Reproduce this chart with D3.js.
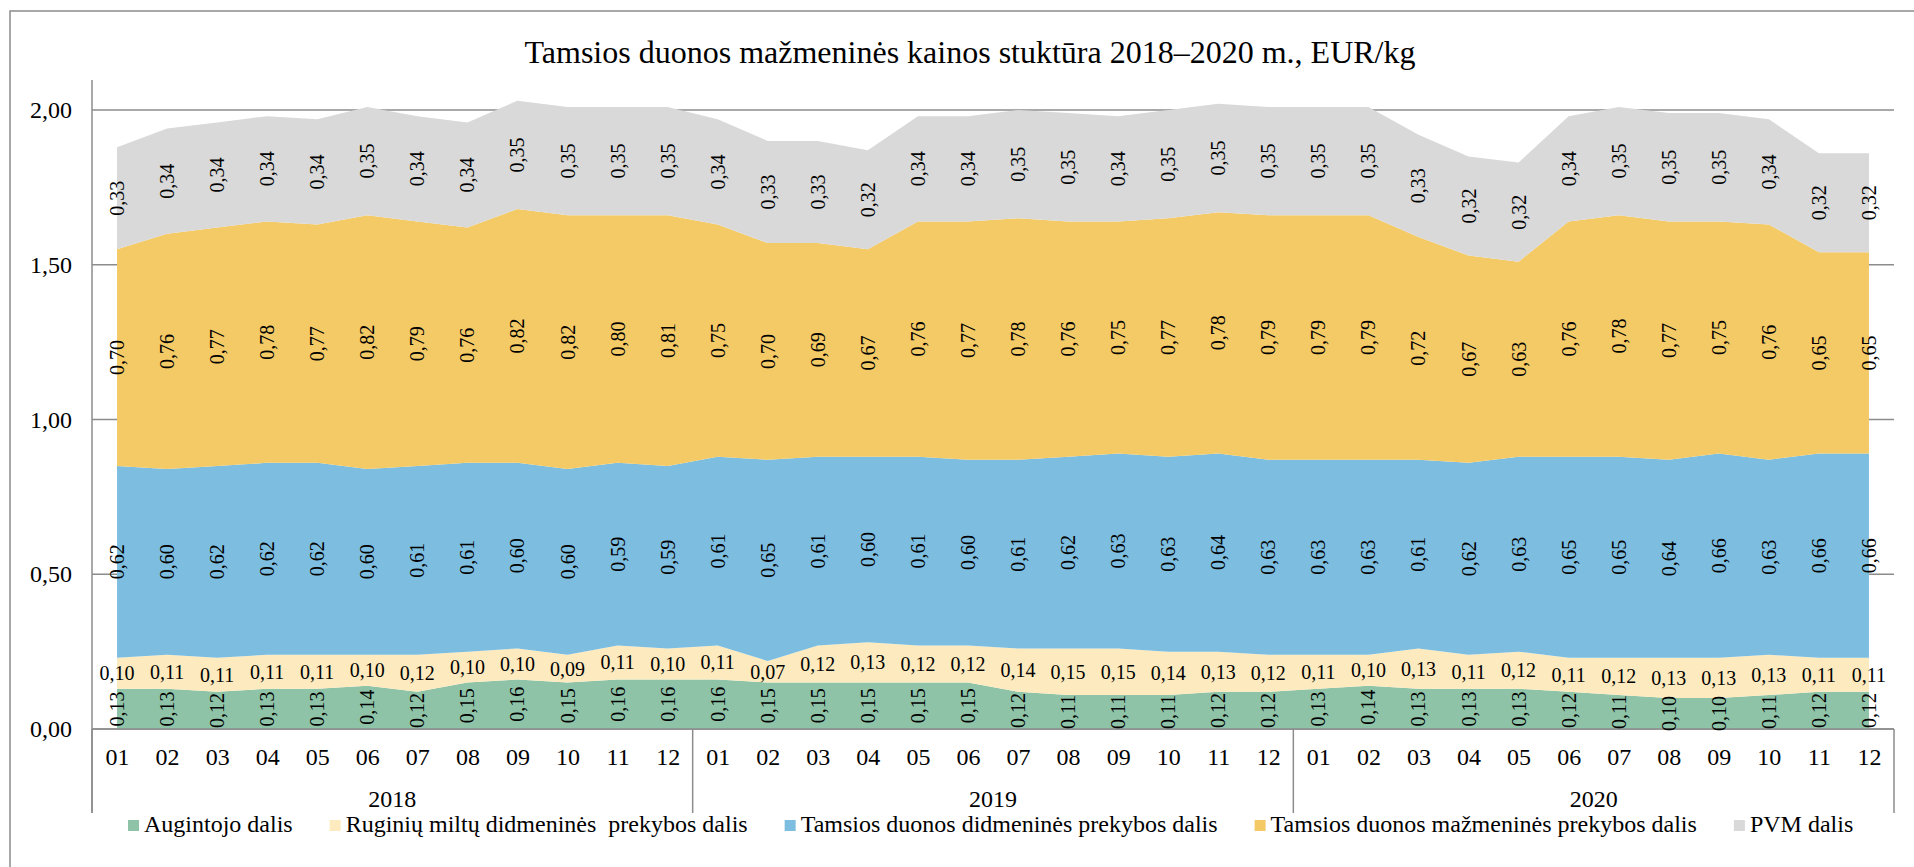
<!DOCTYPE html>
<html lang="lt">

<head>
    <meta charset="UTF-8">
    <title>Tamsios duonos kainos struktūra</title>
    <style>
        body { margin: 0; background: #fff; }
        svg { display: block; font-family: "Liberation Serif", "Times New Roman", serif; }
    </style>
</head>

<body>
    <script src="https://cdn.jsdelivr.net/npm/d3@7/dist/d3.min.js"></script>
    <script>
        // duomenys
        var years = ['2018', '2019', '2020'];
        var months = ['01', '02', '03', '04', '05', '06', '07', '08', '09', '10', '11', '12'];
        var yTicks = [0, 0.5, 1, 1.5, 2];

        var augintojo = [0.13, 0.13, 0.12, 0.13, 0.13, 0.14, 0.12, 0.15, 0.16, 0.15, 0.16, 0.16,
            0.16, 0.15, 0.15, 0.15, 0.15, 0.15, 0.12, 0.11, 0.11, 0.11, 0.12, 0.12,
            0.13, 0.14, 0.13, 0.13, 0.13, 0.12, 0.11, 0.10, 0.10, 0.11, 0.12, 0.12];
        var ruginiu = [0.10, 0.11, 0.11, 0.11, 0.11, 0.10, 0.12, 0.10, 0.10, 0.09, 0.11, 0.10,
            0.11, 0.07, 0.12, 0.13, 0.12, 0.12, 0.14, 0.15, 0.15, 0.14, 0.13, 0.12,
            0.11, 0.10, 0.13, 0.11, 0.12, 0.11, 0.12, 0.13, 0.13, 0.13, 0.11, 0.11];
        var didmenine = [0.62, 0.60, 0.62, 0.62, 0.62, 0.60, 0.61, 0.61, 0.60, 0.60, 0.59, 0.59,
            0.61, 0.65, 0.61, 0.60, 0.61, 0.60, 0.61, 0.62, 0.63, 0.63, 0.64, 0.63,
            0.63, 0.63, 0.61, 0.62, 0.63, 0.65, 0.65, 0.64, 0.66, 0.63, 0.66, 0.66];
        var mazmenine = [0.70, 0.76, 0.77, 0.78, 0.77, 0.82, 0.79, 0.76, 0.82, 0.82, 0.80, 0.81,
            0.75, 0.70, 0.69, 0.67, 0.76, 0.77, 0.78, 0.76, 0.75, 0.77, 0.78, 0.79,
            0.79, 0.79, 0.72, 0.67, 0.63, 0.76, 0.78, 0.77, 0.75, 0.76, 0.65, 0.65];
        var pvm = [0.33, 0.34, 0.34, 0.34, 0.34, 0.35, 0.34, 0.34, 0.35, 0.35, 0.35, 0.35,
            0.34, 0.33, 0.33, 0.32, 0.34, 0.34, 0.35, 0.35, 0.34, 0.35, 0.35, 0.35,
            0.35, 0.35, 0.33, 0.32, 0.32, 0.34, 0.35, 0.35, 0.35, 0.34, 0.32, 0.32];

        var seriesNames = ['Augintojo dalis', 'Ruginių miltų didmeninės  prekybos dalis',
            'Tamsios duonos didmeninės prekybos dalis', 'Tamsios duonos mažmeninės prekybos dalis', 'PVM dalis'];
        var seriesValues = [augintojo, ruginiu, didmenine, mazmenine, pvm];
        var colors = ['#8ec3a7', '#fdebbf', '#7dbee0', '#f4ca66', '#d9d9d9'];
        var rotated = [true, false, true, true, true];

        var W = 1914, H = 867;
        var plotL = 92, plotR = 1894, plotT = 110, plotB = 729;
        var gridColor = '#8c8c8c';

        // lentelė stack'ui
        var cats = [];
        years.forEach(function (y) { months.forEach(function (m) { cats.push(y + '-' + m); }); });
        var rows = cats.map(function (c, i) {
            var r = { cat: c };
            seriesNames.forEach(function (n, k) { r[n] = seriesValues[k][i]; });
            return r;
        });

        var x = d3.scalePoint().domain(cats).range([plotL, plotR]).padding(0.5);
        var y = d3.scaleLinear().domain([0, 2]).range([plotB, plotT]);
        var fmt = function (v) { return d3.format('.2f')(v).replace('.', ','); };

        var svg = d3.select('body').append('svg').attr('width', W).attr('height', H);

        // rėmelis
        svg.append('rect').attr('x', 10).attr('y', 11).attr('width', W + 20).attr('height', H + 20)
            .attr('fill', 'none').attr('stroke', gridColor).attr('stroke-width', 1.5);

        // pavadinimas
        svg.append('text').attr('x', 970).attr('y', 63).attr('text-anchor', 'middle')
            .attr('font-size', 32).attr('fill', '#000')
            .text('Tamsios duonos mažmeninės kainos stuktūra 2018–2020 m., EUR/kg');

        // tinklelis
        svg.append('g').selectAll('line').data(yTicks).enter().append('line')
            .attr('x1', plotL).attr('x2', plotR)
            .attr('y1', function (d) { return y(d); }).attr('y2', function (d) { return y(d); })
            .attr('stroke', gridColor).attr('stroke-width', 1.5);

        // sritys
        var stacked = d3.stack().keys(seriesNames)(rows);
        var area = d3.area()
            .x(function (d) { return x(d.data.cat); })
            .y0(function (d) { return y(d[0]); })
            .y1(function (d) { return y(d[1]); });
        svg.append('g').selectAll('path').data(stacked).enter().append('path')
            .attr('d', area)
            .attr('fill', function (d, i) { return colors[i]; });

        // ašys
        svg.append('line').attr('x1', plotL).attr('x2', plotR).attr('y1', y(0)).attr('y2', y(0))
            .attr('stroke', gridColor).attr('stroke-width', 1.5);
        svg.append('line').attr('x1', plotL).attr('x2', plotL).attr('y1', 80).attr('y2', 813)
            .attr('stroke', gridColor).attr('stroke-width', 1.5);

        var yAxis = svg.append('g').attr('transform', 'translate(' + plotL + ',0)')
            .call(d3.axisLeft(y).tickValues(yTicks).tickSize(0).tickPadding(20).tickFormat(fmt));
        yAxis.select('.domain').remove();
        yAxis.selectAll('text').attr('font-size', 24).attr('font-family', 'Liberation Serif').attr('fill', '#000');

        var xAxis = svg.append('g').attr('transform', 'translate(0,' + y(0) + ')')
            .call(d3.axisBottom(x).tickSize(0).tickPadding(19).tickFormat(function (d) { return d.split('-')[1]; }));
        xAxis.select('.domain').remove();
        xAxis.selectAll('text').attr('font-size', 24).attr('font-family', 'Liberation Serif').attr('fill', '#000');

        // metų skirtukai
        var step = x.step();
        var seps = d3.range(years.length + 1).map(function (i) { return plotL + i * 12 * step; });
        svg.append('g').selectAll('line').data(seps).enter().append('line')
            .attr('x1', function (d) { return d; }).attr('x2', function (d) { return d; })
            .attr('y1', y(0)).attr('y2', 813)
            .attr('stroke', gridColor).attr('stroke-width', 1.5);
        svg.append('g').selectAll('text').data(years).enter().append('text')
            .attr('x', function (d, i) { return plotL + (i + 0.5) * 12 * step; })
            .attr('y', 807).attr('text-anchor', 'middle').attr('font-size', 24)
            .text(function (d) { return d; });

        // reikšmių etiketės
        stacked.forEach(function (s, k) {
            var g = svg.append('g').attr('font-size', 20).attr('fill', '#000');
            s.forEach(function (d, i) {
                var cx = x(d.data.cat), cy = y((d[0] + d[1]) / 2);
                var t = g.append('text').attr('text-anchor', 'middle').attr('dominant-baseline', 'central')
                    .text(fmt(seriesValues[k][i]));
                if (rotated[k]) t.attr('transform', 'translate(' + cx + ',' + cy + ') rotate(-90)');
                else t.attr('x', cx).attr('y', cy);
            });
        });

        // legenda
        var lx = 128;
        seriesNames.forEach(function (n, i) {
            var g = svg.append('g').attr('transform', 'translate(' + lx + ',820)');
            g.append('rect').attr('width', 11).attr('height', 11).attr('fill', colors[i]);
            var t = g.append('text').attr('x', 16).attr('y', 12).attr('font-size', 24)
                .attr('xml:space', 'preserve').style('white-space', 'pre').text(n);
            lx += 16 + t.node().getComputedTextLength() + 37;
        });
    </script>
</body>

</html>
